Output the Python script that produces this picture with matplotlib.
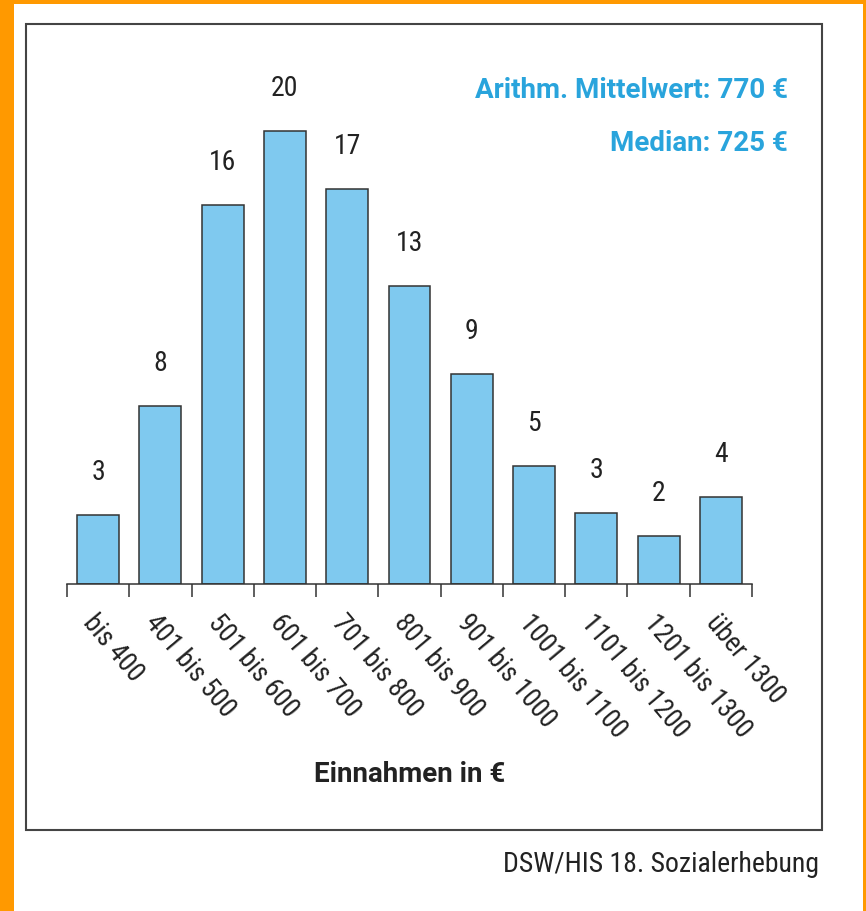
import numpy as np
import matplotlib
matplotlib.use('Agg')
import matplotlib.pyplot as plt
from matplotlib import font_manager
from matplotlib.patches import Rectangle

# ---- data ----
categories = ["bis 400", "401 bis 500", "501 bis 600", "601 bis 700", "701 bis 800",
              "801 bis 900", "901 bis 1000", "1001 bis 1100", "1101 bis 1200",
              "1201 bis 1300", "über 1300"]
shares = [3.05, 7.85, 16.75, 20.0, 17.45, 13.17, 9.26, 5.22, 3.13, 2.12, 3.85]
share_labels = ["3", "8", "16", "20", "17", "13", "9", "5", "3", "2", "4"]
mean_value = 770
median_value = 725
x_title = "Einnahmen in €"
source_text = "DSW/HIS 18. Sozialerhebung"


def pick(names):
    for n in names:
        try:
            font_manager.findfont(font_manager.FontProperties(family=n),
                                  fallback_to_default=False)
            return n
        except Exception:
            pass
    return 'DejaVu Sans'


FONT = pick(['Roboto Condensed', 'Liberation Sans Narrow', 'DejaVu Sans Condensed',
             'Open Sans Condensed', 'Roboto'])
BOLD_FONT = pick(['Roboto', 'Open Sans', 'DejaVu Sans'])
plt.rcParams['font.family'] = [FONT, 'DejaVu Sans']

W, H, DPI = 866, 912, 100
fig = plt.figure(figsize=(W / DPI, H / DPI), dpi=DPI)
fig.patch.set_facecolor('white')


def fx(px):
    return px / W


def fy(py):
    return 1 - py / H


orange = '#FF9900'
dark = '#222222'
blue_text = '#29A4DC'
bar_color = '#7FC9EF'
line_col = '#333333'

# orange border strips
fig.add_artist(Rectangle((0, 0), fx(14), 1, transform=fig.transFigure,
                         facecolor=orange, edgecolor='none', zorder=0))
fig.add_artist(Rectangle((0, fy(5)), 1, 1 - fy(5), transform=fig.transFigure,
                         facecolor=orange, edgecolor='none', zorder=0))
fig.add_artist(Rectangle((fx(863), 0), 1 - fx(863), 1, transform=fig.transFigure,
                         facecolor=orange, edgecolor='none', zorder=0))
# frame
fig.add_artist(Rectangle((fx(26), fy(831)), fx(822) - fx(26), fy(25) - fy(831),
                         transform=fig.transFigure, fill=False,
                         edgecolor='#444444', linewidth=1.5, zorder=1))

ax = fig.add_axes([fx(67), fy(585), fx(752) - fx(67), (585 - 40) / H])
ax.set_facecolor('none')
x = np.arange(len(categories))
ax.bar(x, shares, width=0.674, color=bar_color, edgecolor=line_col,
       linewidth=1.1, zorder=2)
ax.set_xlim(-0.5, len(categories) - 0.5)
ax.set_ylim(0, (585 - 40) / 22.65)

for xi, v, lab in zip(x, shares, share_labels):
    ax.annotate(lab, (xi, v), xytext=(0, 26), textcoords='offset points',
                ha='center', va='baseline', fontsize=20, color=dark)

for s in ['left', 'right', 'top']:
    ax.spines[s].set_visible(False)
ax.spines['bottom'].set_color(line_col)
ax.spines['bottom'].set_linewidth(1.1)
ax.set_yticks([])

ax.set_xticks(np.arange(-0.5, len(categories), 1))
ax.set_xticklabels([])
ax.set_xticks(x, minor=True)
ax.set_xticklabels(categories, minor=True)
ax.tick_params(axis='x', which='major', direction='out', length=9.4, width=1.1,
               color=line_col)
ax.tick_params(axis='x', which='minor', length=0, pad=18, labelsize=19.5,
               labelcolor=dark)
for lab in ax.get_xticklabels(minor=True):
    lab.set_rotation(-50)
    lab.set_rotation_mode('anchor')
    lab.set_ha('left')
    lab.set_va('top')

fig.text(fx(409.5), fy(781.7), x_title, ha='center', va='baseline',
         fontsize=20, fontweight='bold', color=dark, family=[BOLD_FONT, 'DejaVu Sans'])
fig.text(fx(819), fy(871.7), source_text, ha='right', va='baseline',
         fontsize=20, color=dark)
fig.text(fx(788), fy(98.3), f"Arithm. Mittelwert: {mean_value} €", ha='right',
         va='baseline', fontsize=20, fontweight='bold', color=blue_text,
         family=[BOLD_FONT, 'DejaVu Sans'])
fig.text(fx(788), fy(150.7), f"Median: {median_value} €", ha='right',
         va='baseline', fontsize=20, fontweight='bold', color=blue_text,
         family=[BOLD_FONT, 'DejaVu Sans'])

fig.savefig('out.png', dpi=DPI)
